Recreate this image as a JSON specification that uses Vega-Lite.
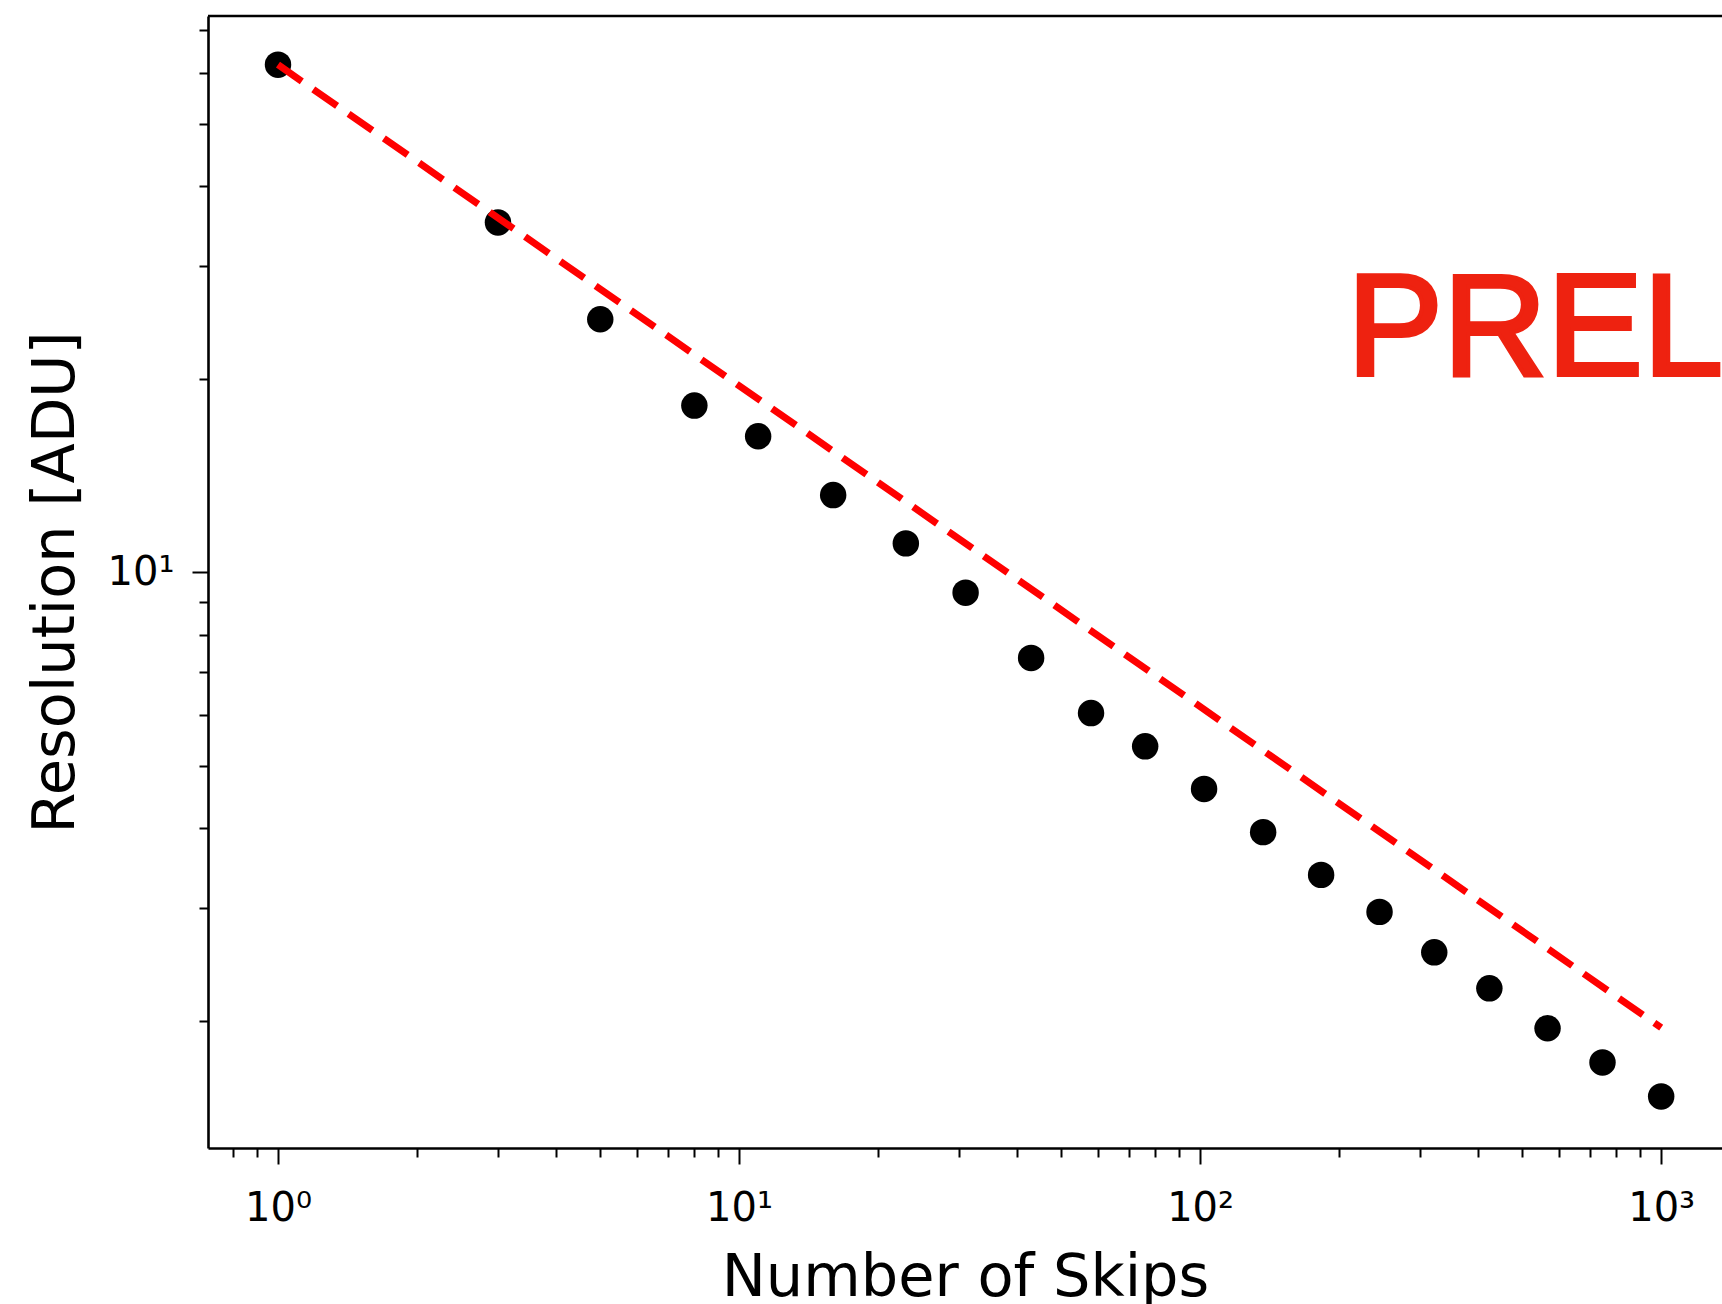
{
  "$schema": "https://vega.github.io/schema/vega-lite/v6.json",
  "width": 1514,
  "height": 1132,
  "autosize": {"type": "none"},
  "padding": {"left": 208, "top": 16, "right": 0, "bottom": 156},
  "background": "white",
  "config": {
    "view": {"stroke": null},
    "axis": {
      "grid": false,
      "domainColor": "black",
      "domainWidth": 2.6,
      "tickColor": "black",
      "tickWidth": 2,
      "labelFont": "DejaVu Sans",
      "labelFontSize": 40,
      "labelColor": "black",
      "labelOverlap": false,
      "labelFlush": false,
      "labelBound": false,
      "titleFont": "DejaVu Sans",
      "titleFontSize": 59,
      "titleFontWeight": "normal",
      "titleColor": "black"
    }
  },
  "datasets": {
    "points": [
      {"skips": 1, "resolution": 61.8},
      {"skips": 3, "resolution": 35.1},
      {"skips": 5, "resolution": 24.8},
      {"skips": 8, "resolution": 18.2},
      {"skips": 11, "resolution": 16.3},
      {"skips": 16, "resolution": 13.2},
      {"skips": 23, "resolution": 11.1},
      {"skips": 31, "resolution": 9.3},
      {"skips": 43, "resolution": 7.36},
      {"skips": 58, "resolution": 6.04},
      {"skips": 76, "resolution": 5.36},
      {"skips": 102, "resolution": 4.6},
      {"skips": 137, "resolution": 3.94},
      {"skips": 183, "resolution": 3.38},
      {"skips": 245, "resolution": 2.96},
      {"skips": 322, "resolution": 2.56},
      {"skips": 424, "resolution": 2.25},
      {"skips": 567, "resolution": 1.95},
      {"skips": 746, "resolution": 1.725},
      {"skips": 1000, "resolution": 1.527}
    ],
    "fit": [
      {"skips": 1, "resolution": 61.8},
      {"skips": 1000, "resolution": 1.954}
    ],
    "note": [
      {"skips": 208.2, "resolution": 20.34, "label": "PRELIMINARY"}
    ],
    "frame": [
      {"resolution": 73.6}
    ]
  },
  "layer": [
    {
      "data": {"name": "points"},
      "mark": {"type": "point", "filled": true, "shape": "circle", "size": 700, "color": "black", "opacity": 1},
      "encoding": {
        "x": {
          "field": "skips",
          "type": "quantitative",
          "scale": {"type": "log", "domain": [0.705, 1355], "nice": false, "zero": false},
          "axis": {
            "title": "Number of Skips",
            "titlePadding": 20,
            "values": [0.8, 0.9, 1, 2, 3, 4, 5, 6, 7, 8, 9, 10, 20, 30, 40, 50, 60, 70, 80, 90, 100, 200, 300, 400, 500, 600, 700, 800, 900, 1000],
            "tickSize": {"condition": {"test": "datum.value == 1 || datum.value == 10 || datum.value == 100 || datum.value == 1000", "value": 16}, "value": 9},
            "labelExpr": "datum.value == 1 ? '10⁰' : datum.value == 10 ? '10¹' : datum.value == 100 ? '10²' : datum.value == 1000 ? '10³' : ''",
            "labelPadding": 24,
            "labelBaseline": "top"
          }
        },
        "y": {
          "field": "resolution",
          "type": "quantitative",
          "scale": {"type": "log", "domain": [1.269, 73.6], "nice": false, "zero": false},
          "axis": {
            "title": "Resolution [ADU]",
            "titlePadding": 22,
            "values": [2, 3, 4, 5, 6, 7, 8, 9, 10, 20, 30, 40, 50, 60, 70],
            "tickSize": {"condition": {"test": "datum.value == 10", "value": 16}, "value": 9},
            "labelExpr": "datum.value == 10 ? '10¹' : ''",
            "labelPadding": 18
          }
        }
      }
    },
    {
      "data": {"name": "fit"},
      "mark": {"type": "line", "color": "#ff0000", "strokeWidth": 7, "strokeDash": [29, 14]},
      "encoding": {
        "x": {"field": "skips", "type": "quantitative"},
        "y": {"field": "resolution", "type": "quantitative"}
      }
    },
    {
      "data": {"name": "note"},
      "mark": {"type": "text", "font": "Liberation Sans", "fontSize": 144, "fill": "#ee2210", "stroke": "#ee2210", "strokeWidth": 4, "strokeJoin": "miter", "align": "left", "baseline": "alphabetic"},
      "encoding": {
        "x": {"field": "skips", "type": "quantitative"},
        "y": {"field": "resolution", "type": "quantitative"},
        "text": {"field": "label"}
      }
    },
    {
      "data": {"name": "frame"},
      "mark": {"type": "rule", "color": "black", "strokeWidth": 2.6},
      "encoding": {
        "y": {"field": "resolution", "type": "quantitative"}
      }
    }
  ]
}
